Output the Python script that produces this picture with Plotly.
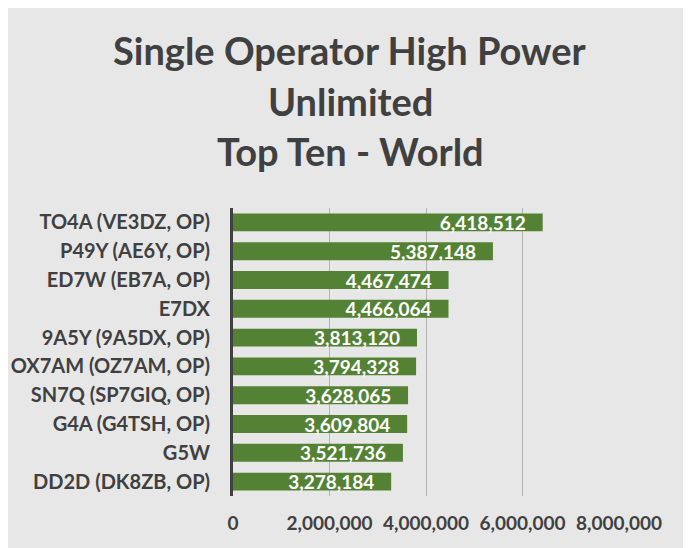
import plotly.graph_objects as go

# Top ten stations, listed from the top of the chart down
stations = ["TO4A (VE3DZ, OP)", "P49Y (AE6Y, OP)", "ED7W (EB7A, OP)", "E7DX",
            "9A5Y (9A5DX, OP)", "OX7AM (OZ7AM, OP)", "SN7Q (SP7GIQ, OP)",
            "G4A (G4TSH, OP)", "G5W", "DD2D (DK8ZB, OP)"]
scores = [6418512, 5387148, 4467474, 4466064, 3813120, 3794328, 3628065,
          3609804, 3521736, 3278184]
tick_vals = [0, 2000000, 4000000, 6000000, 8000000]
tick_text = ["0", "2,000,000", "4,000,000", "6,000,000", "8,000,000"]
title_lines = ["Single Operator High Power", "Unlimited", "Top Ten - World"]

FONT = "Lato"
DARK = "#404040"
W, H = 683, 540  # page body keeps its 8px margin
L, R, T, B = 225, 72, 200, 52

fig = go.Figure()
fig.add_trace(go.Bar(
    x=scores, y=stations, orientation="h",
    marker=dict(color="#548235", line=dict(width=0)),
    texttemplate="%{x:,.0f}&nbsp;&nbsp;&nbsp;",
    textposition="inside", insidetextanchor="end", constraintext="none",
    textfont=dict(family=FONT, size=19, color="white", weight="bold"),
    cliponaxis=False,
))

# title lines placed one by one to get the wide line spacing
plot_w = W - L - R
plot_h = H - T - B
for i, line in enumerate(title_lines):
    y_px = 42 + i * 50.5
    fig.add_annotation(
        text=line, x=(342 - L) / plot_w, xref="paper",
        y=(H - B - y_px) / plot_h, yref="paper",
        showarrow=False, font=dict(family=FONT, size=38, color=DARK, weight="bold"),
        xanchor="center", yanchor="middle",
    )

fig.update_layout(
    width=W, height=H,
    margin=dict(l=L, r=R, t=T, b=B, autoexpand=False),
    paper_bgcolor="#e7e7e7", plot_bgcolor="rgba(0,0,0,0)",
    showlegend=False, bargap=0.38,
    xaxis=dict(range=[0, 8000000], tickvals=tick_vals, ticktext=tick_text,
               showgrid=True, gridcolor="#b5b5b5", gridwidth=1, zeroline=False,
               ticks="", tickfont=dict(family=FONT, size=19, color=DARK, weight="bold"),
               ticklabelstandoff=14, automargin=False, fixedrange=True),
    yaxis=dict(autorange="reversed", showline=True, linecolor=DARK, linewidth=3,
               ticks="", ticklabelstandoff=16, automargin=False,
               tickfont=dict(family=FONT, size=20, color=DARK, weight="bold"),
               fixedrange=True),
)

fig.write_html("out.html")
